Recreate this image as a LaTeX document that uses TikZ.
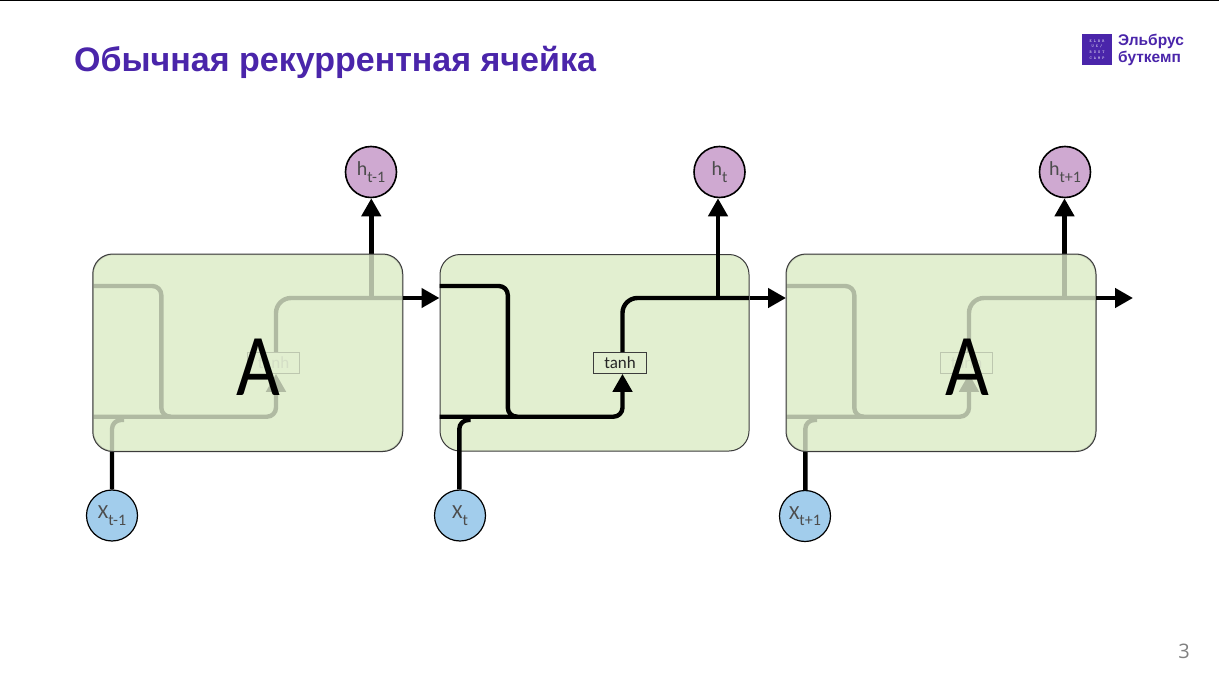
\documentclass[tikz,border=0pt]{standalone}
\usepackage{fontspec}
\setmainfont{Carlito}
\newfontfamily\titlefont{Liberation Sans}
\newfontfamily\pagefont{Open Sans}
\usetikzlibrary{arrows.meta}
\definecolor{brand}{HTML}{4A25AA}
\definecolor{cellgreen}{HTML}{E2EFD0}
\definecolor{cellborder}{HTML}{3C3C3C}
\definecolor{inblue}{HTML}{A2CDEC}
\definecolor{outpink}{HTML}{CFA9D1}
\tikzset{
  cellbox/.style={draw=cellborder,line width=1pt,fill=cellgreen,rounded corners=20pt,minimum width=309pt,minimum height=196.5pt,inner sep=0pt},
  flow/.style={draw=black,line width=4.4pt,line join=round},
  tip/.style={-{Triangle[length=18pt,width=19pt]}},
  tanhbox/.style={draw=cellborder,line width=1pt,fill=cellgreen,minimum width=52.5pt,minimum height=21pt,inner sep=0pt,font=\fontsize{17}{17}\selectfont},
  bubble/.style={circle,draw=black,line width=1.2pt,minimum size=51pt,inner sep=0pt,font=\fontsize{20}{20}\selectfont,text=black!70},
  inbubble/.style={bubble,fill=inblue},
  outbubble/.style={bubble,fill=outpink,line width=1.6pt},
  bigletter/.style={inner sep=0pt,font=\fontsize{88}{88}\selectfont},
  veil/.style={fill=cellgreen,fill opacity=.78,rounded corners=20pt},
}
\newcommand{\subs}[1]{\raisebox{-.32em}{\fontsize{16}{16}\selectfont #1}}
\begin{document}
\begin{tikzpicture}[x=1pt,y=-1pt]
\useasboundingbox (0,0) rectangle (1219,685);
\fill[white] (0,0) rectangle (1219,685);
\draw[black,line width=1pt] (0,.5) -- (1219,.5);

\node[anchor=base west,inner sep=0pt,text=brand,font=\titlefont\bfseries\fontsize{34}{34}\selectfont] (title) at (74,71) {Обычная рекуррентная ячейка};
\node[fill=brand,minimum size=30.5pt,inner sep=0pt,text=white,align=center,font=\ttfamily\fontsize{4}{5.6}\selectfont] (logo) at (1097,49.5) {E L B R\\U X /\\B O O T\\C A M P};
\node[anchor=west,inner sep=0pt,text=brand,align=left,font=\titlefont\bfseries\fontsize{15.5}{17.5}\selectfont] (logotext) at (1118,50) {Эльбрус\\буткемп};
\node[inner sep=0pt,text=black!50,font=\pagefont\fontsize{20}{20}\selectfont] (pageno) at (1184,651) {3};

% cell 1
\node[cellbox] (c1) at (247.75,352.75) {};
\node[inbubble] (x1) at (112,515.5) {X\subs{t-1}};
\node[outbubble] (h1) at (371,172) {h\subs{t-1}};
% cell 2
\node[cellbox] (c2) at (594.5,352.75) {};
\node[inbubble] (x2) at (460,515.5) {X\subs{t}};
\node[outbubble] (h2) at (719.5,172) {h\subs{t}};
% cell 3
\node[cellbox] (c3) at (941,352.75) {};
\node[inbubble] (x3) at (805,516) {X\subs{t+1}};
\node[outbubble] (h3) at (1065,172) {h\subs{t+1}};

\foreach \i/\d/\ix/\ox/\tc in {1/0/112/371.3/black!35,2/346.5/459.3/718/black!85,3/693/805.3/1064.5/black!35}{
  \begin{scope}[shift={(\d,0)}]
    \node[tanhbox,text=\tc] (t\i) at (273.5,362.8) {tanh};
    \coordinate (ci\i) at (93,286);
    \coordinate (bi\i) at (93,416.7);
    \coordinate (dn\i) at (161.3,286);
    \coordinate (dm\i) at (161.3,416.7);
    \coordinate (de\i) at (171,416.7);
    \coordinate (bb\i) at (276,416.7);
    \coordinate (ub\i) at (276,298);
    \coordinate (ur\i) at (402.5,298);
    \coordinate (ie\i) at (124,420);
  \end{scope}
  \coordinate (ic\i) at (\ix,420);
  \coordinate (oj\i) at (\ox,298);
  \draw[flow,rounded corners=9pt] (ci\i) -- (dn\i) -- (dm\i) -- (de\i);
  \draw[flow,rounded corners=9pt,tip] (bi\i) -- (bb\i) -- (bb\i |- t\i.south);
  \draw[flow,rounded corners=15pt] (ub\i |- t\i.north) -- (ub\i) -- (ur\i);
  \draw[flow,tip] (oj\i) -- (oj\i |- h\i.south);
  \draw[flow,rounded corners=9pt] (ic\i |- x\i.north) -- (ic\i) -- (ie\i);
}
% faded cells
\path[veil] (c1.south west) rectangle (c1.north east);
\draw[cellborder,line width=1pt,rounded corners=20pt] (c1.south west) rectangle (c1.north east);
\path[veil] (c3.south west) rectangle (c3.north east);
\draw[cellborder,line width=1pt,rounded corners=20pt] (c3.south west) rectangle (c3.north east);
\node[bigletter] (a1) at (258,367) {\scalebox{.86}[1]{A}};
\node[bigletter] (a3) at (967.3,367) {\scalebox{.86}[1]{A}};

% links between cells
\draw[flow,tip] (c1.east |- ur1) -- (c2.west |- ur1);
\draw[flow,tip] (c2.east |- ur2) -- (c3.west |- ur2);
\coordinate (exit) at (1133,298);
\draw[flow,tip] (c3.east |- ur3) -- (exit);
\end{tikzpicture}
\end{document}
